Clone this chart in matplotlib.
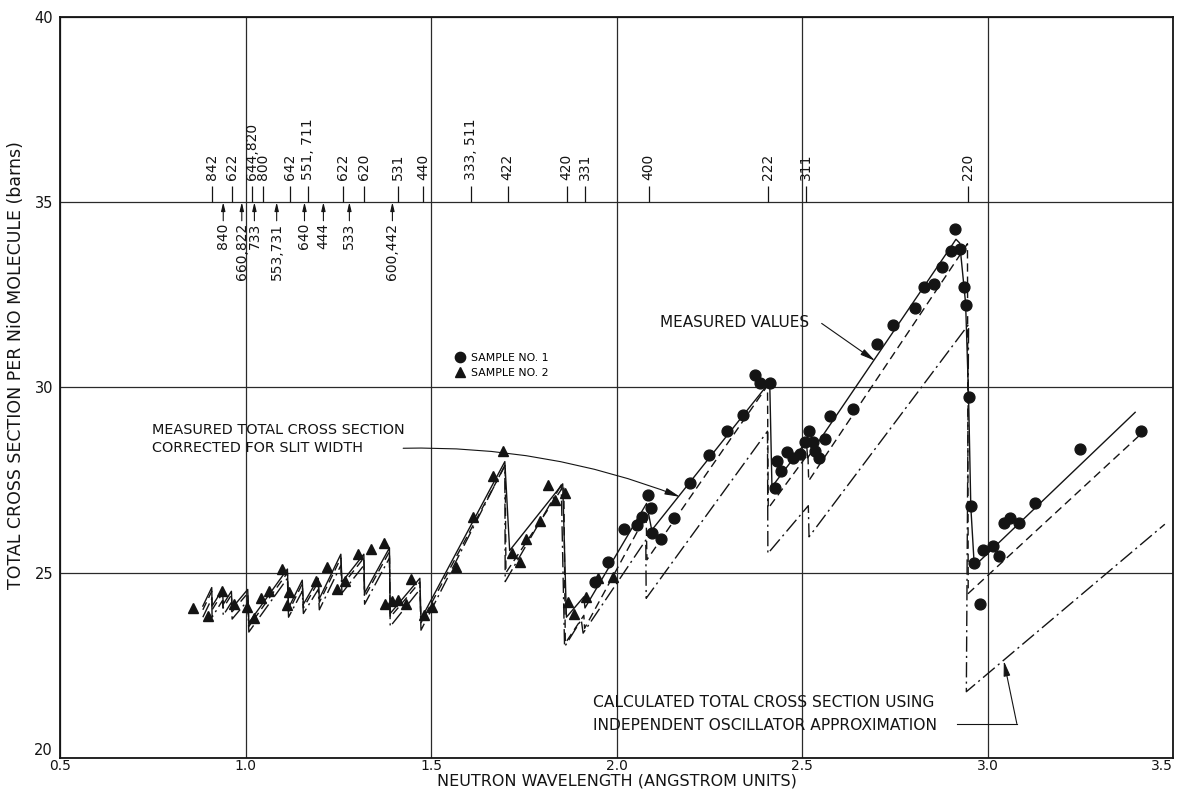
"""
Total neutron cross section of NiO against wavelength, with the Bragg
cutoff positions marked along the 35 barn line.
"""

import matplotlib
matplotlib.use("Agg")
import matplotlib.pyplot as plt
import numpy as np

# sample 1 (circles): wavelength (A), cross section (barns)
s1_lam = [1.943, 1.978, 2.020, 2.056, 2.070, 2.084, 2.093, 2.096, 2.119, 2.156,
          2.198, 2.248, 2.297, 2.340, 2.372, 2.388, 2.413, 2.426, 2.432, 2.443,
          2.459, 2.477, 2.495, 2.507, 2.518, 2.529, 2.534, 2.545, 2.561, 2.576,
          2.638, 2.701, 2.746, 2.804, 2.830, 2.857, 2.877, 2.901, 2.913, 2.926,
          2.937, 2.943, 2.949, 2.955, 2.964, 2.979, 2.989, 3.014, 3.032, 3.045,
          3.061, 3.086, 3.129, 3.248, 3.414]
s1_sig = [24.75, 25.30, 26.17, 26.29, 26.51, 27.10, 26.75, 26.06, 25.90, 26.48,
          27.41, 28.17, 28.82, 29.25, 30.35, 30.13, 30.13, 27.30, 28.02, 27.75,
          28.25, 28.11, 28.20, 28.53, 28.82, 28.53, 28.28, 28.11, 28.62, 29.23,
          29.41, 31.17, 31.70, 32.15, 32.71, 32.79, 33.25, 33.68, 34.27, 33.73,
          32.71, 32.24, 29.75, 26.80, 25.27, 24.16, 25.61, 25.73, 25.46, 26.33,
          26.48, 26.35, 26.87, 28.34, 28.82]

# sample 2 (triangles)
s2_lam = [0.858, 0.899, 0.938, 0.970, 1.005, 1.024, 1.041, 1.064, 1.099, 1.113,
          1.117, 1.191, 1.221, 1.246, 1.268, 1.302, 1.338, 1.374, 1.376, 1.395,
          1.412, 1.432, 1.446, 1.482, 1.503, 1.568, 1.613, 1.668, 1.695, 1.718,
          1.739, 1.757, 1.793, 1.815, 1.833, 1.860, 1.869, 1.886, 1.919, 1.951,
          1.991]
s2_sig = [24.04, 23.82, 24.51, 24.16, 24.07, 23.77, 24.31, 24.51, 25.10, 24.13,
          24.47, 24.78, 25.16, 24.56, 24.78, 25.50, 25.64, 25.81, 24.17, 24.24,
          24.26, 24.16, 24.82, 23.86, 24.08, 25.16, 26.51, 27.61, 28.29, 25.52,
          25.30, 25.90, 26.40, 27.38, 26.96, 27.16, 24.22, 23.88, 24.35, 24.85,
          24.89]

# measured curve (solid)
meas_lam = [0.885, 0.909, 0.910, 0.938, 0.940, 0.962, 0.964, 1.006, 1.009, 1.113,
            1.116, 1.153, 1.156, 1.196, 1.199, 1.257, 1.260, 1.319, 1.321, 1.388,
            1.390, 1.470, 1.473, 1.699, 1.712, 1.855, 1.865, 1.912, 1.915, 2.081,
            2.095, 2.413, 2.419, 2.512, 2.515, 2.905, 2.915, 2.925, 2.941, 2.949,
            2.955, 2.964, 2.972, 3.398]
meas_sig = [24.10, 24.60, 24.10, 24.55, 24.15, 24.50, 24.05, 24.55, 23.65, 25.10,
            24.05, 24.80, 24.15, 24.85, 24.30, 25.50, 24.75, 25.50, 24.45, 25.67,
            23.90, 24.85, 23.75, 28.00, 25.60, 27.40, 23.80, 24.35, 24.05, 26.87,
            26.15, 30.15, 27.32, 28.55, 28.10, 33.85, 34.00, 33.90, 32.27, 29.75,
            26.78, 25.25, 25.25, 29.33]

# measured curve corrected for slit width (dashed)
corr_lam = [0.885, 0.909, 0.910, 0.938, 0.940, 0.962, 0.964, 1.006, 1.009, 1.113,
            1.116, 1.153, 1.156, 1.196, 1.199, 1.257, 1.260, 1.319, 1.321, 1.388,
            1.390, 1.470, 1.473, 1.700, 1.702, 1.858, 1.862, 1.912, 1.914, 2.080,
            2.082, 2.407, 2.409, 2.516, 2.518, 2.946, 2.948, 3.425]
corr_sig = [24.00, 24.50, 24.00, 24.45, 24.05, 24.40, 23.95, 24.45, 23.55, 25.00,
            23.95, 24.70, 24.05, 24.75, 24.20, 25.40, 24.65, 25.40, 24.35, 25.57,
            23.80, 24.75, 23.65, 27.90, 25.00, 27.35, 23.10, 23.85, 23.50, 26.55,
            25.35, 30.05, 26.74, 28.20, 27.48, 33.88, 24.44, 28.85]

# calculated, independent oscillator approximation (dash-dot)
calc_lam = [0.885, 0.909, 0.910, 0.938, 0.940, 0.962, 0.964, 1.006, 1.009, 1.113,
            1.116, 1.153, 1.156, 1.196, 1.199, 1.257, 1.260, 1.319, 1.321, 1.388,
            1.390, 1.470, 1.473, 1.699, 1.700, 1.851, 1.860, 1.905, 1.910, 2.079,
            2.080, 2.407, 2.408, 2.517, 2.519, 2.949, 2.943, 3.478]
calc_sig = [23.80, 24.30, 23.80, 24.25, 23.85, 24.20, 23.75, 24.25, 23.40, 24.85,
            23.80, 24.50, 23.90, 24.55, 24.00, 25.20, 24.45, 25.20, 24.15, 25.40,
            23.55, 24.55, 23.45, 27.90, 24.76, 27.37, 23.00, 23.73, 23.37, 25.88,
            24.31, 28.82, 25.52, 26.81, 25.97, 31.70, 21.79, 26.31]

# reflections marked above the scale line
up_pos = [0.911, 0.963, 1.017, 1.048, 1.120, 1.169, 1.262, 1.320, 1.412, 1.479,
          1.609, 1.707, 1.866, 1.916, 2.087, 2.408, 2.511, 2.947]
up_text = ["842", "622", "644,820", "800", "642", "551, 711", "622", "620", "531",
           "440", "333, 511", "422", "420", "331", "400", "222", "311", "220"]

# reflections marked below the scale line
down_pos = [0.940, 0.990, 1.024, 1.084, 1.159, 1.210, 1.280, 1.396]
down_text = ["840", "660,822", "733", "553,731", "640", "444", "533", "600,442"]

x_ticks = [0.5, 1.0, 1.5, 2.0, 2.5, 3.0, 3.5]
y_ticks = [20, 25, 30, 35, 40]
scale_level = 35.0

INK = "#141414"


def draw_scale(ax):
    """Bragg cutoff ticks and labels along the 35 barn line."""
    ax.vlines(up_pos, scale_level, scale_level + 0.45, color=INK, lw=0.9)
    for x, txt in zip(up_pos, up_text):
        ax.text(x, scale_level + 0.6, txt, rotation=90, ha="center", va="bottom",
                fontsize=10, color=INK)

    for x, txt in zip(down_pos, down_text):
        ax.annotate("", xy=(x, scale_level), xytext=(x, scale_level - 0.5),
                    arrowprops=dict(arrowstyle="-|>,head_length=0.5,head_width=0.12",
                                    color=INK, lw=0.8, shrinkA=0, shrinkB=0))
        ax.text(x, scale_level - 0.55, txt, rotation=90, ha="center", va="top",
                fontsize=10, color=INK)


def draw_notes(ax):
    """Text labels with their pointer lines."""
    ax.text(2.117, 31.76, "MEASURED VALUES", fontsize=11, va="center", color=INK)
    ax.annotate("", xy=(2.697, 30.72), xytext=(2.553, 31.73),
                arrowprops=dict(arrowstyle="-|>,head_length=0.9,head_width=0.2",
                                color=INK, lw=0.8, shrinkA=0, shrinkB=0))

    ax.text(0.748, 28.85, "MEASURED TOTAL CROSS SECTION", fontsize=10.4,
            va="center", color=INK)
    ax.text(0.748, 28.36, "CORRECTED FOR SLIT WIDTH", fontsize=10.4,
            va="center", color=INK)
    ax.annotate("", xy=(2.171, 27.05), xytext=(1.425, 28.36),
                arrowprops=dict(arrowstyle="-|>,head_length=0.9,head_width=0.2",
                                connectionstyle="arc3,rad=-0.1",
                                color=INK, lw=0.8, shrinkA=0, shrinkB=0))

    ax.text(1.938, 21.49, "CALCULATED TOTAL CROSS SECTION USING", fontsize=11.2,
            va="center", color=INK)
    ax.text(1.938, 20.87, "INDEPENDENT OSCILLATOR APPROXIMATION", fontsize=11.2,
            va="center", color=INK)
    ax.plot([2.917, 3.079], [20.93, 20.93], color=INK, lw=0.8)
    ax.annotate("", xy=(3.044, 22.62), xytext=(3.079, 20.93),
                arrowprops=dict(arrowstyle="-|>,head_length=0.9,head_width=0.2",
                                color=INK, lw=0.8, shrinkA=0, shrinkB=0))


def main():
    fig = plt.figure(figsize=(11.78, 7.91), dpi=100)
    ax = fig.add_axes([60 / 1178, 1 - 758 / 791, 1113 / 1178, 741 / 791])

    ax.set_xlim(0.5, 3.5)
    ax.set_ylim(20, 40)
    ax.set_xticks(x_ticks)
    ax.set_xticklabels([f"{v:.1f}" for v in x_ticks])
    ax.get_xticklabels()[-1].set_horizontalalignment("right")
    ax.set_yticks(y_ticks)
    ax.get_yticklabels()[0].set_verticalalignment("bottom")
    ax.tick_params(length=0, labelsize=10.5, colors=INK)
    ax.tick_params(axis="x", pad=1, labelsize=10)
    ax.tick_params(axis="y", pad=5)
    ax.grid(True, color="#2a2a2a", lw=0.9)
    ax.set_axisbelow(True)
    for spine in ax.spines.values():
        spine.set_linewidth(1.3)
        spine.set_color(INK)

    ax.plot(meas_lam, meas_sig, color=INK, lw=1.0)
    ax.plot(corr_lam, corr_sig, color=INK, lw=1.0, dashes=(6, 3.5))
    ax.plot(calc_lam, calc_sig, color=INK, lw=1.0, dashes=(11, 3, 1.5, 3))

    ax.plot(s1_lam, s1_sig, "o", color=INK, ms=7.8, mec=INK,
            label="SAMPLE NO. 1")
    ax.plot(s2_lam, s2_sig, "^", color=INK, ms=7.8, mec=INK,
            label="SAMPLE NO. 2")

    ax.legend(loc="upper left", bbox_to_anchor=(0.347, 0.56), frameon=False,
              fontsize=7.8, handlelength=0.8, handletextpad=0.6,
              labelspacing=0.45, markerscale=0.95)

    draw_scale(ax)
    draw_notes(ax)

    ax.set_xlabel("NEUTRON WAVELENGTH (ANGSTROM UNITS)", fontsize=11.5,
                  color=INK)
    ax.set_ylabel("TOTAL CROSS SECTION PER NiO MOLECULE (barns)", fontsize=12.5,
                  color=INK)
    ax.yaxis.set_label_coords(-0.031, 0.53)
    ax.xaxis.set_label_coords(0.5, -0.0205)

    fig.savefig("out.png", dpi=100, facecolor="white")
    plt.close(fig)


if __name__ == "__main__":
    main()
